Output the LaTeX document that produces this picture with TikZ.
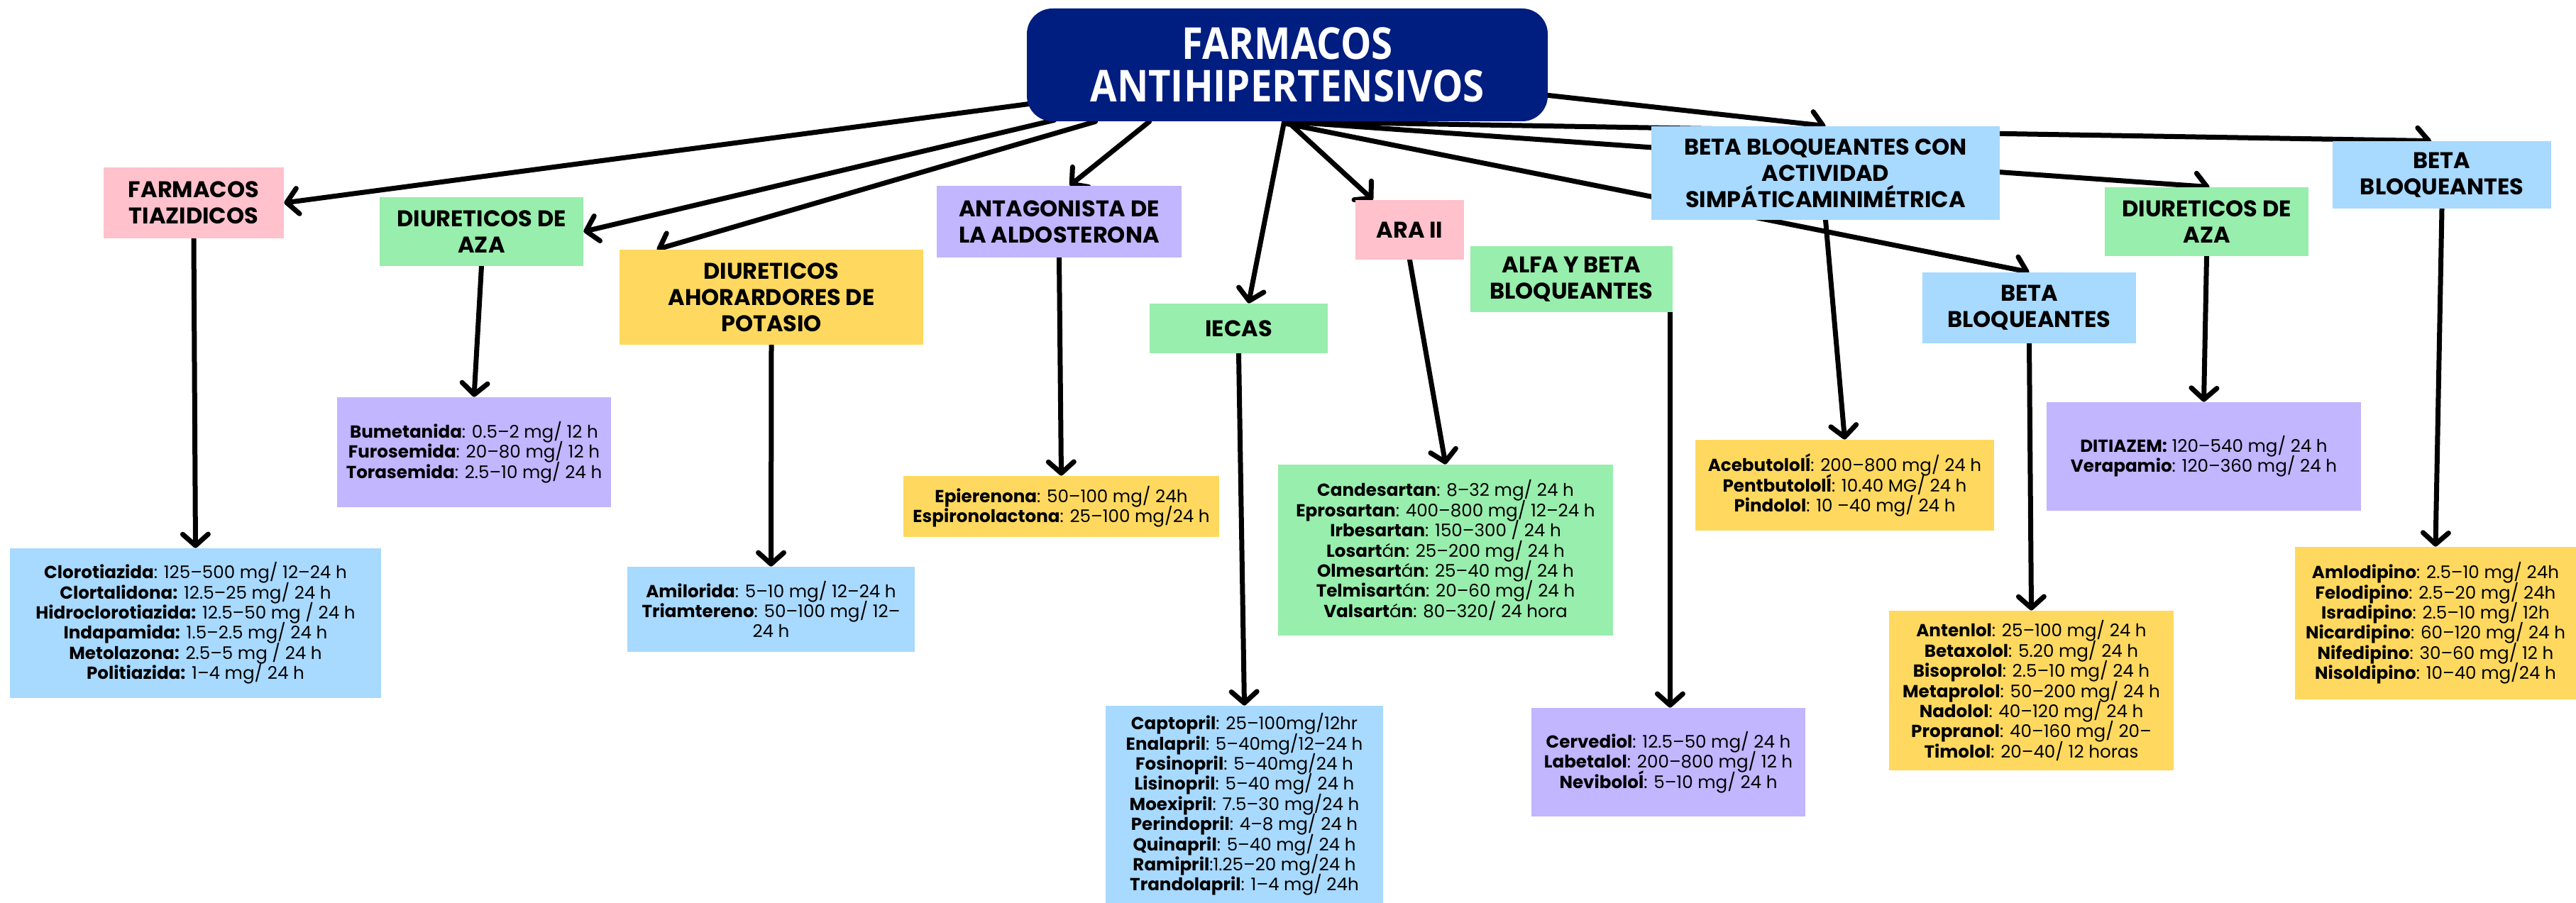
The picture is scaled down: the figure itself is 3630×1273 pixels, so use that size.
\documentclass[tikz,border=0pt]{standalone}
\usepackage{fontspec}
\setmainfont{Poppins}
\newfontfamily\titlefont[FakeStretch=0.88]{Open Sans}
\usetikzlibrary{arrows.meta,calc}
\definecolor{pinkc}{HTML}{FFC1CC}
\definecolor{greenc}{HTML}{98EEAC}
\definecolor{yellowc}{HTML}{FFD95F}
\definecolor{purplec}{HTML}{C1B6FF}
\definecolor{bluec}{HTML}{A8D9FF}
\definecolor{navyc}{HTML}{001D80}
\newcommand\tightlines{\lineskiplimit=-20pt\relax}
\pgfdeclarelayer{bg}
\pgfsetlayers{bg,main}
\begin{document}
\begin{tikzpicture}[x=0.5pt,y=-0.5pt,
  box/.style={rectangle, inner sep=0pt, align=center, text=black},
  hdr/.style={box, font=\fontsize{16}{18.5}\selectfont\tightlines\bfseries},
  dat/.style={box, font=\fontsize{12.3}{14.2}\selectfont\tightlines},
  sz/.style 2 args={minimum width=#1*0.5pt, minimum height=#2*0.5pt},
  conn/.style={line width=3.5pt, line cap=round, -{Straight Barb[round,length=8pt,width=18pt]}}]
\begin{pgfonlayer}{bg}
\fill[white] (0,0) rectangle (3630,1273);
\end{pgfonlayer}
\useasboundingbox (0,0) rectangle (3630,1273);

% title
\node[box, fill=navyc, rounded corners=18pt, sz={734}{159}, text=white,
  font=\titlefont\fontsize{31}{30}\selectfont\tightlines\bfseries] (title) at (1814,91.5) {FARMACOS\\ANTIHIPERTENSIVOS};

% headers
\node[hdr, fill=pinkc, sz={254}{100}] (tiaz) at (273,286) {FARMACOS\\TIAZIDICOS};
\node[hdr, fill=greenc, sz={287}{97}] (aza1) at (678.5,326.5) {DIURETICOS DE\\AZA};
\node[hdr, fill=yellowc, sz={428}{134}] (ahor) at (1087,419) {DIURETICOS\\AHORARDORES DE\\POTASIO};
\node[hdr, fill=purplec, sz={345}{101}] (antag) at (1492.5,312.5) {ANTAGONISTA DE\\LA ALDOSTERONA};
\node[hdr, fill=greenc, sz={251}{70}] (iecas) at (1745.5,463) {IECAS};
\node[hdr, fill=pinkc, sz={153}{84}] (ara) at (1986.5,324) {ARA II};
\node[hdr, fill=greenc, sz={285}{93}] (alfa) at (2214.5,393.5) {ALFA Y BETA\\BLOQUEANTES};
\node[hdr, fill=bluec, sz={491}{132}] (betacon) at (2572.5,244) {BETA BLOQUEANTES CON\\ACTIVIDAD\\SIMPÁTICAMINIMÉTRICA};
\node[hdr, fill=bluec, sz={301}{100}] (beta2) at (2859.5,434) {BETA\\BLOQUEANTES};
\node[hdr, fill=greenc, sz={287}{97}] (aza2) at (3109.5,312.5) {DIURETICOS DE\\AZA};
\node[hdr, fill=bluec, sz={308}{95}] (beta3) at (3441,246.5) {BETA\\BLOQUEANTES};

% data boxes
\node[dat, fill=bluec, sz={523}{211}] (A) at (275.5,878.5) {\textbf{Clorotiazida}: 125–500 mg/ 12–24 h\\
  \textbf{Clortalidona:} 12.5–25 mg/ 24 h\\
  \textbf{Hidroclorotiazida:} 12.5–50 mg / 24 h\\
  \textbf{Indapamida:} 1.5–2.5 mg/ 24 h\\
  \textbf{Metolazona:} 2.5–5 mg / 24 h\\
  \textbf{Politiazida:} 1–4 mg/ 24 h};
\node[dat, fill=purplec, sz={386}{155}] (B) at (668,637.5) {\textbf{Bumetanida}: 0.5–2 mg/ 12 h\\
  \textbf{Furosemida}: 20–80 mg/ 12 h\\
  \textbf{Torasemida}: 2.5–10 mg/ 24 h};
\node[dat, fill=bluec, sz={405}{120}] (C) at (1086.5,859) {\textbf{Amilorida}: 5–10 mg/ 12–24 h\\
  \textbf{Triamtereno}: 50–100 mg/ 12–\\ 24 h};
\node[dat, fill=yellowc, sz={445}{86}] (D) at (1495.5,714) {\textbf{Epierenona}: 50–100 mg/ 24h\\
  \textbf{Espironolactona}: 25–100 mg/24 h};
\node[dat, fill=bluec, sz={391}{278}] (E) at (1753.5,1134) {\textbf{Captopril}: 25–100mg/12hr\\
  \textbf{Enalapril}: 5–40mg/12–24 h\\
  \textbf{Fosinopril}: 5–40mg/24 h\\
  \textbf{Lisinopril}: 5–40 mg/ 24 h\\
  \textbf{Moexipril}: 7.5–30 mg/24 h\\
  \textbf{Perindopril}: 4–8 mg/ 24 h\\
  \textbf{Quinapril}: 5–40 mg/ 24 h\\
  \textbf{Ramipril}:1.25–20 mg/24 h\\
  \textbf{Trandolapril}: 1–4 mg/ 24h};
\node[dat, fill=greenc, sz={472}{241}] (F) at (2037,775.5) {\textbf{Candesartan}: 8–32 mg/ 24 h\\
  \textbf{Eprosartan}: 400–800 mg/ 12–24 h\\
  \textbf{Irbesartan}: 150–300 / 24 h\\
  \textbf{Losart}á\textbf{n}: 25–200 mg/ 24 h\\
  \textbf{Olmesart}á\textbf{n}: 25–40 mg/ 24 h\\
  \textbf{Telmisart}á\textbf{n}: 20–60 mg/ 24 h\\
  \textbf{Valsart}á\textbf{n}: 80–320/ 24 hora};
\node[dat, fill=purplec, sz={386}{153}] (G) at (2351,1074.5) {\textbf{Cervediol}: 12.5–50 mg/ 24 h\\
  \textbf{Labetalol}: 200–800 mg/ 12 h\\
  \textbf{Neviboloĺ}: 5–10 mg/ 24 h};
\node[dat, fill=yellowc, sz={421}{128}] (H) at (2599.5,684) {\textbf{Acebutololĺ}: 200–800 mg/ 24 h\\
  \textbf{Pentbutololĺ}: 10.40 MG/ 24 h\\
  \textbf{Pindolol}: 10 –40 mg/ 24 h};
\node[dat, fill=yellowc, sz={401}{225}] (I) at (2862.5,973.5) {\textbf{Antenlol}: 25–100 mg/ 24 h\\
  \textbf{Betaxolol}: 5.20 mg/ 24 h\\
  \textbf{Bisoprolol}: 2.5–10 mg/ 24 h\\
  \textbf{Metaprolol}: 50–200 mg/ 24 h\\
  \textbf{Nadolol}: 40–120 mg/ 24 h\\
  \textbf{Propranol}: 40–160 mg/ 20–\\
  \textbf{Timolol}: 20–40/ 12 horas};
\node[dat, fill=purplec, sz={443}{153}] (J) at (3105.5,643.5) {\textbf{DITIAZEM:} 120–540 mg/ 24 h\\
  \textbf{Verapamio}: 120–360 mg/ 24 h};
\node[dat, fill=yellowc, sz={396}{215}] (K) at (3432,878.5) {\textbf{Amlodipino}: 2.5–10 mg/ 24h\\
  \textbf{Felodipino}: 2.5–20 mg/ 24h\\
  \textbf{Isradipino}: 2.5–10 mg/ 12h\\
  \textbf{Nicardipino}: 60–120 mg/ 24 h\\
  \textbf{Nifedipino}: 30–60 mg/ 12 h\\
  \textbf{Nisoldipino}: 10–40 mg/24 h};

\coordinate (alfaout) at ($(alfa.east)+(-4,-18)$);

\begin{pgfonlayer}{bg}
% from title
\draw[conn] ($(title.south west)+(4,-25)$) -- (tiaz.east);
\draw[conn] ($(title.south west)+(39,-2)$) -- (aza1.east);
\draw[conn] ($(title.south west)+(97,0)$) -- ($(ahor.north west)+(53,0)$);
\draw[conn] ($(title.south west)+(173,0)$) -- ($(antag.north)+(15,0)$);
\draw[conn] ($(title.south west)+(363,0)$) -- ($(iecas.north)+(14,0)$);
\draw[conn] ($(title.south west)+(368,0)$) -- ($(ara.north west)+(25,0)$);
\draw[conn] ($(title.south west)+(366,0)$) -- ($(beta3.north)+(-15,0)$);
\draw[conn] ($(title.south west)+(366,0)$) -- ($(aza2.north)+(4,0)$);
\draw[conn] ($(title.south west)+(366,3)$) -- (beta2.north);
\draw[conn] ($(title.south east)+(0,-37)$) -- (betacon.north);
% down to data
\draw[conn] (tiaz.south) -- (A.north);
\draw[conn] (aza1.south) -- (B.north);
\draw[conn] (ahor.south) -- (C.north);
\draw[conn] (antag.south) -- (D.north);
\draw[conn] (iecas.south) -- (E.north);
\draw[conn] (ara.south) -- (F.north);
\draw[conn] (alfaout) -- (alfaout |- G.north);
\draw[conn] (betacon.south) -- (H.north);
\draw[conn] (beta2.south) -- (I.north);
\draw[conn] (aza2.south) -- (J.north);
\draw[conn] (beta3.south) -- (K.north);
\end{pgfonlayer}
\end{tikzpicture}
\end{document}
